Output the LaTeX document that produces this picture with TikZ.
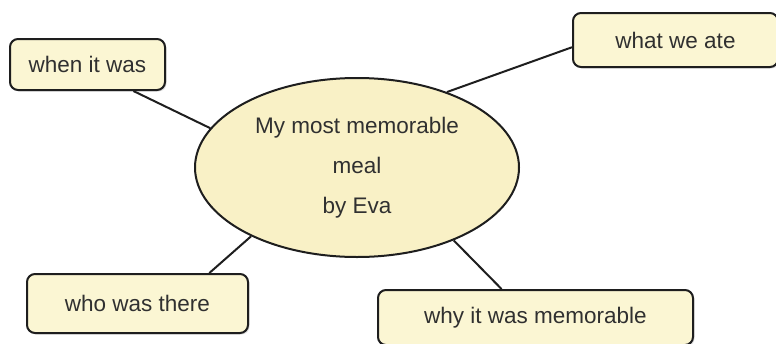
\documentclass[tikz,border=0pt]{standalone}
\usepackage{fontspec}
\setmainfont{Liberation Sans}
\usepackage{tikz}
\usetikzlibrary{shapes.geometric,shadows}
\definecolor{boxfill}{HTML}{FBF6D3}
\definecolor{ovalfill}{HTML}{F9F1C6}
\definecolor{edge}{HTML}{1E1E1E}
\definecolor{ink}{HTML}{303030}

\begin{document}
\begin{tikzpicture}[x=1pt, y=-1pt, line width=2pt, draw=edge,
	topic/.style = {draw=edge, fill=boxfill, rounded corners=8pt, text=ink, inner sep=0pt,
		drop shadow={shadow xshift=1.5pt, shadow yshift=-1.5pt, opacity=0.25}},
	hub/.style = {draw=edge, fill=ovalfill, ellipse, text=ink, align=center, inner sep=0pt}]
\useasboundingbox (0,0) rectangle (776,343);
\fontsize{22.5}{40}\selectfont
\node[hub, minimum width=324pt, minimum height=179pt]   (meal) at (357,167.5) {My most memorable\\meal\\by Eva};
\node[topic, minimum width=155pt, minimum height=51pt]  (when) at (87.5,64.5)   {when it was};
\node[topic, minimum width=205pt, minimum height=54pt]  (ate)  at (675.5,40)   {what we ate};
\node[topic, minimum width=221pt, minimum height=59pt]  (who)  at (137.5,303.5) {who was there};
\node[topic, minimum width=315pt, minimum height=55pt]  (why)  at (535.5,317.5) {why it was memorable};

\draw (when.-30) -- (meal.165);
\draw (ate.184)  -- (meal.40);
\draw (who.23)   -- (meal.213);
\draw (why.140)  -- (meal.-37);
\end{tikzpicture}
\end{document}
